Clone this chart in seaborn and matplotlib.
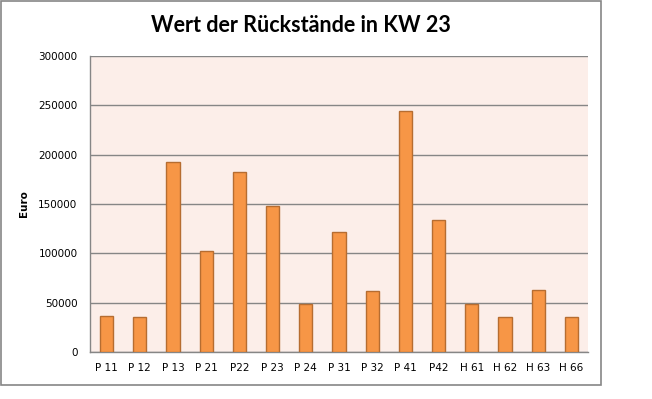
import matplotlib
matplotlib.use('Agg')
import matplotlib.pyplot as plt
import seaborn as sns
import pandas as pd
from matplotlib.patches import Rectangle

# values
labels = ['P 11', 'P 12', 'P 13', 'P 21', 'P22', 'P 23', 'P 24', 'P 31',
          'P 32', 'P 41', 'P42', 'H 61', 'H 62', 'H 63', 'H 66']
values = [36400, 35400, 193000, 102000, 182000, 147500, 48300, 121200,
          61400, 244600, 133300, 48300, 35100, 62400, 35100]
yticks = [0, 50000, 100000, 150000, 200000, 250000, 300000]

df = pd.DataFrame({'posten': labels, 'euro': values})

sns.set_style('white')
plt.rcParams['font.family'] = ['DejaVu Sans']
plt.rcParams['text.color'] = 'black'
plt.rcParams['axes.labelcolor'] = 'black'
plt.rcParams['xtick.labelcolor'] = 'black'
plt.rcParams['ytick.labelcolor'] = 'black'

fig = plt.figure(figsize=(6.52, 3.99), dpi=100)
ax = fig.add_axes([90 / 652, 47 / 399, 498 / 652, 296 / 399])

sns.barplot(x='posten', y='euro', data=df, color='#F79646', width=0.4,
            edgecolor='#B66D31', linewidth=1, saturation=1, ax=ax, zorder=3)

ax.set_facecolor('#FCEEE9')
ax.set_ylim(0, 300000)
ax.set_xlim(-0.5, len(labels) - 0.5)
ax.set_yticks(yticks)
ax.set_yticklabels([str(v) for v in yticks], fontsize=7.5)
ax.tick_params(axis='y', length=5, color='#868686', width=1, pad=4)
ax.tick_params(axis='x', length=0, labelsize=7.5, pad=8)
ax.grid(axis='y', color='#868686', linewidth=1, zorder=1)
ax.set_axisbelow(True)
for s in ['top', 'right']:
    ax.spines[s].set_visible(False)
for s in ['left', 'bottom']:
    ax.spines[s].set_color('#868686')
    ax.spines[s].set_linewidth(1)

ax.set_xlabel('')
ax.set_ylabel('Euro', fontsize=7.5, fontweight='bold', labelpad=7)

fig.text(301 / 652, 1 - 26 / 399, 'Wert der Rückstände in KW 23',
         family=['Lato', 'DejaVu Sans'], fontsize=15.5, fontweight='bold',
         color='black', ha='center', va='center')

# outer chart border like the Excel chart frame
fig.patches.append(Rectangle((1 / 652, 1 - 385 / 399), 600 / 652, 384 / 399,
                             transform=fig.transFigure, fill=False,
                             edgecolor='#868686', linewidth=1.2))

fig.savefig('out.png', dpi=100)
